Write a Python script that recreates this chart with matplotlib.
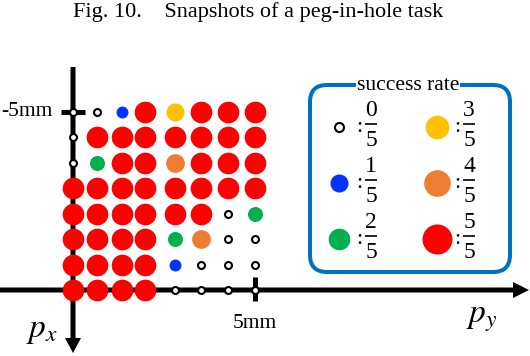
import numpy as np
import matplotlib
matplotlib.use("Agg")
import matplotlib.pyplot as plt
from matplotlib.patches import FancyBboxPatch

plt.rcParams['font.family'] = ['Liberation Serif', 'DejaVu Serif']
plt.rcParams['mathtext.fontset'] = 'stix'

# peg start offsets (mm)
py_mm = [0.0, 0.66, 1.34, 1.99, 2.81, 3.52, 4.25, 5.0]
px_mm = [-5.0, -4.29, -3.57, -2.86, -2.14, -1.43, -0.71, 0.0]

# successes out of 5 trials, rows from px=-5 (top) down to px=0
success = [
    [0, 0, 1, 5, 3, 5, 5, 5],
    [0, 5, 5, 5, 5, 5, 5, 5],
    [0, 2, 5, 5, 4, 5, 5, 5],
    [5, 5, 5, 5, 5, 5, 5, 5],
    [5, 5, 5, 5, 5, 5, 0, 2],
    [5, 5, 5, 5, 2, 4, 0, 0],
    [5, 5, 5, 5, 1, 0, 0, 0],
    [5, 5, 5, 5, 0, 0, 0, 0],
]
n_trials = 5

rates = [0, 1, 2, 3, 4, 5]
rate_colors = ['white', '#0433FF', '#00B050', '#FFC000', '#ED7D31', '#FF0000']
grid_size = [5.0, 8.6, 10.8, 13.0, 13.5, 15.6]     # marker diameter, pt
legend_size = [6.5, 13.0, 15.6, 17.0, 19.2, 21.6]

W, H, DPI = 530, 356, 100
fig = plt.figure(figsize=(W / DPI, H / DPI), dpi=DPI)
ax = fig.add_axes([0, 0, 1, 1])
ax.axis('off')

# pixel anchors: py=0 -> x 73, py=5 -> x 255 ; px=-5 -> y 112, px=0 -> y 290 (from top)
sx = (255 - 73) / 5.0
sy = (290 - 112) / 5.0
ax.set_xlim(-73 / sx, (W - 73) / sx)
ax.set_ylim((H - 290) / sy, -290 / sy)

def xpx(p):
    return (p - 73) / sx

def ypx(p):
    return (p - 290) / sy

# axes with arrows
ax.arrow(0, ypx(67), 0, ypx(353) - ypx(67), width=5 / sx, head_width=16 / sx,
         head_length=15 / sy, length_includes_head=True, color='black', lw=0, zorder=1)
ax.arrow(xpx(0), 0, xpx(529) - xpx(0), 0, width=5 / sy, head_width=16 / sy,
         head_length=16 / sx, length_includes_head=True, color='black', lw=0, zorder=1)
ax.plot([xpx(61), xpx(85)], [px_mm[0], px_mm[0]], color='black', lw=3.6,
        solid_capstyle='butt', zorder=1)
ax.plot([py_mm[-1], py_mm[-1]], [ypx(277), ypx(301)], color='black', lw=3.6,
        solid_capstyle='butt', zorder=1)

# grid of results
for r in rates:
    xs, ys = [], []
    for i, row in enumerate(success):
        for j, v in enumerate(row):
            if v == r:
                xs.append(py_mm[j])
                ys.append(px_mm[i])
    if r == 0:
        ax.scatter(xs, ys, s=grid_size[r] ** 2, facecolor='white', edgecolor='black',
                   linewidths=1.5, zorder=3)
    else:
        ax.scatter(xs, ys, s=grid_size[r] ** 2, color=rate_colors[r], linewidths=0, zorder=3)

ax.text(xpx(53), px_mm[0], '-5mm', ha='right', va='center', fontsize=15.5)
ax.text(py_mm[-1], ypx(323), '5mm', ha='center', va='center', fontsize=15.5)
ax.text(xpx(42), ypx(331), '$p_x$', ha='center', va='center', fontsize=24)
ax.text(xpx(482), ypx(319), '$p_y$', ha='center', va='center', fontsize=24)

fig.text(0.487, 1 - 12 / H, 'Fig. 10.    Snapshots of a peg-in-hole task',
         ha='center', va='center', fontsize=16)

# legend box
lg = fig.add_axes([300 / W, 1 - 282 / H, 220 / W, 210 / H])
lg.axis('off')
lg.set_xlim(0, 220)
lg.set_ylim(210, 0)
lg.add_patch(FancyBboxPatch((10, 13), 200, 187, boxstyle='round,pad=0,rounding_size=17',
                            facecolor='none', edgecolor='#0070C0', lw=2.9))
lg.text(108, 13, 'success rate', ha='center', va='center', fontsize=15.5,
        bbox=dict(facecolor='white', edgecolor='none', pad=1.0))

col_x = [39, 137]
row_y = [55, 111, 167]
for k, r in enumerate(rates):
    cx = col_x[k // 3]
    cy = row_y[k % 3]
    if r == 0:
        lg.plot(cx, cy, 'o', ms=legend_size[r], mfc='white', mec='black', mew=1.5)
    else:
        lg.plot(cx, cy, 'o', ms=legend_size[r], color=rate_colors[r], mew=0)
    lg.text(cx + 20, cy + 1, ':', ha='center', va='center', fontsize=16)
    # stacked fraction r / 5
    lg.text(cx + 32, cy - 16, str(r), ha='center', va='center', fontsize=17)
    lg.plot([cx + 26, cx + 38], [cy - 3, cy - 3], color='black', lw=1.2,
            solid_capstyle='butt')
    lg.text(cx + 32, cy + 13, str(n_trials), ha='center', va='center', fontsize=17)

fig.savefig('out.png', dpi=DPI)
